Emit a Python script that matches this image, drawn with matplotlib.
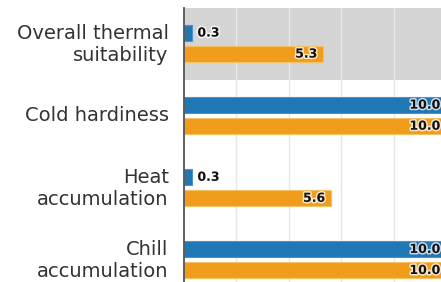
import matplotlib
matplotlib.use("Agg")
import matplotlib.pyplot as plt
import matplotlib.patheffects as pe
import matplotlib.transforms as mtransforms
import numpy as np

categories = ["Overall thermal\nsuitability", "Cold hardiness", "Heat\naccumulation", "Chill\naccumulation"]
series_a = [0.3, 10.0, 0.3, 10.0]
series_b = [5.3, 10.0, 5.6, 10.0]
highlight_index = 0

W, H = 441, 282
fig = plt.figure(figsize=(W / 100, H / 100), dpi=100)
ax_left, ax_right = 184, 446
ax_top, ax_bottom = 7.5, 296
ax = fig.add_axes([ax_left / W, 1 - ax_bottom / H, (ax_right - ax_left) / W, (ax_bottom - ax_top) / H])

blue = "#1f77b4"
orange = "#f09d1c"
y = np.arange(len(categories))
bh = 0.222
off = 0.146

ax.axhspan(highlight_index - 0.5, highlight_index + 0.5, color="#d4d4d4", zorder=0, lw=0)
ax.set_xlim(0, 10)
ax.set_ylim(len(categories) - 0.5, -0.5)
ax.set_xticks([2, 4, 6, 8])
ax.grid(axis="x", color="#e8e8e8", lw=1, zorder=0.5)
ax.set_axisbelow(True)

bars_a = ax.barh(y - off, series_a, height=bh, color=blue, edgecolor="#4a95c8", lw=0.8, zorder=2)
bars_b = ax.barh(y + off, series_b, height=bh, color=orange, edgecolor="#f6c064", lw=0.8, zorder=2)
for b in list(bars_a) + list(bars_b):
    b.set_joinstyle("round")

halo = [pe.withStroke(linewidth=2.2, foreground=(1, 1, 1, 0.75))]
for vals, yy in ((series_a, y - off), (series_b, y + off)):
    for v, yc in zip(vals, yy):
        if v < 1.5:
            ax.annotate(f"{v:.1f}", (v, yc), xytext=(4, 0), textcoords="offset points",
                        ha="left", va="center", fontsize=9, fontweight="bold", color="#111111",
                        path_effects=halo, zorder=4, annotation_clip=False)
        else:
            ax.annotate(f"{v:.1f}", (v, yc), xytext=(-4, 0), textcoords="offset points",
                        ha="right", va="center", fontsize=9, fontweight="bold", color="#111111",
                        path_effects=halo, zorder=4, annotation_clip=False)

ax.set_yticks(y)
ax.set_yticklabels(categories, fontsize=14, color="#333333", linespacing=1.2)
ax.tick_params(axis="y", length=0, pad=11)
ax.tick_params(axis="x", length=0, labelbottom=False)
shift = mtransforms.ScaledTranslation(0, 2.5 / 100, fig.dpi_scale_trans)
for lbl in ax.get_yticklabels():
    lbl.set_transform(lbl.get_transform() + shift)
for s in ("top", "right", "bottom"):
    ax.spines[s].set_visible(False)
ax.spines["left"].set_color("#555555")
ax.spines["left"].set_linewidth(1.3)
ax.spines["left"].set_zorder(5)

fig.savefig("out.png", dpi=100)
